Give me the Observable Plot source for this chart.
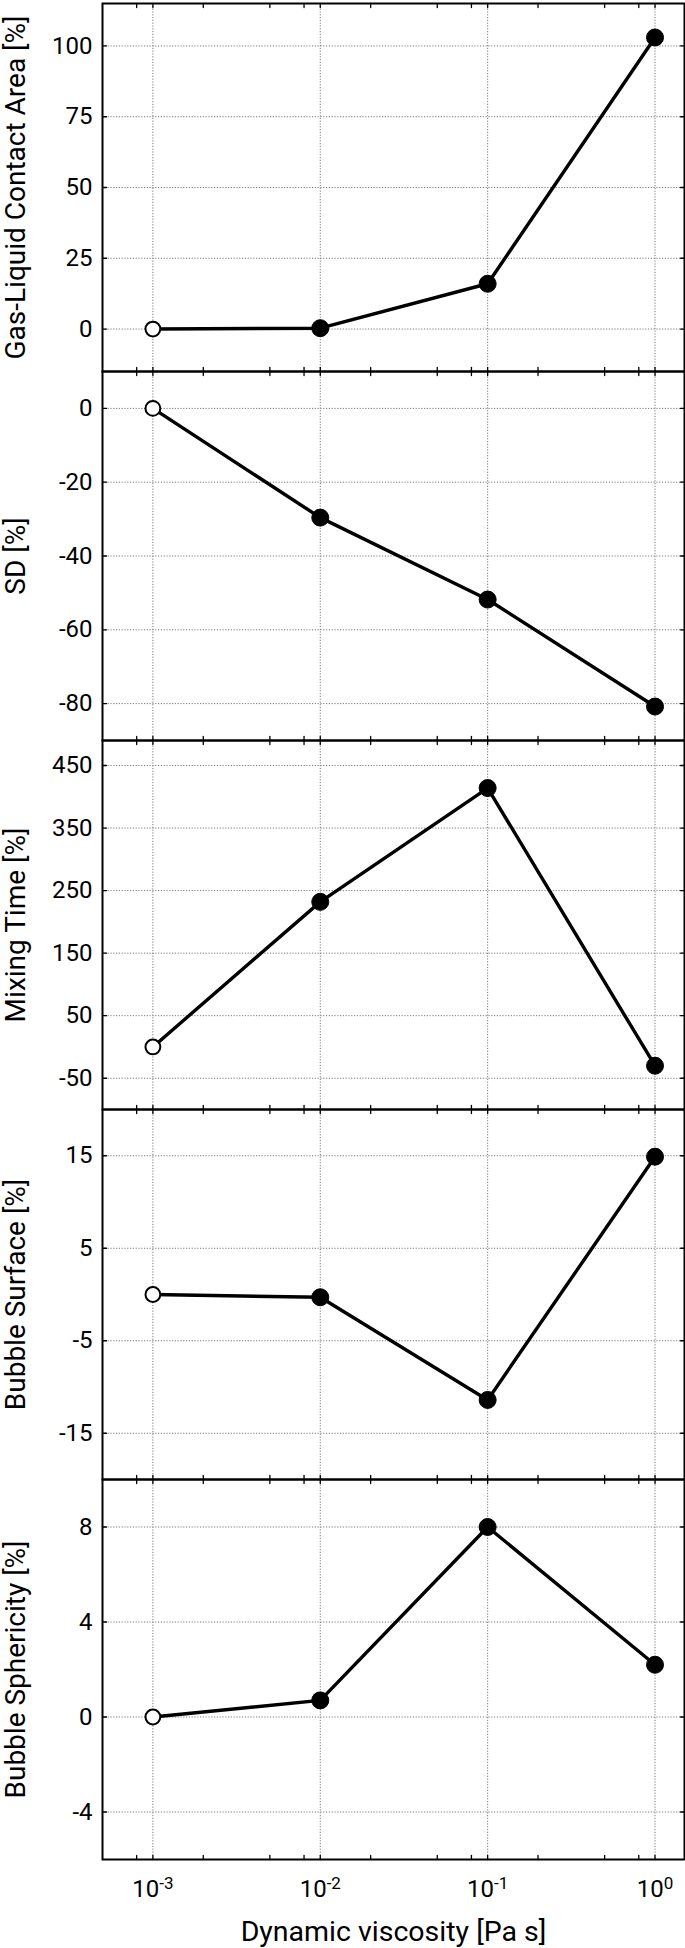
<!DOCTYPE html>
<html><head><meta charset="utf-8">
<script src="https://cdn.jsdelivr.net/npm/d3@7"></script>
<script src="https://cdn.jsdelivr.net/npm/@observablehq/plot@0.6"></script>
<style>
html,body{margin:0;padding:0;background:#fff;}
#chart{position:relative;width:685px;height:1948px;overflow:hidden;background:#fff;}
#chart svg{position:absolute;left:0;overflow:visible;}
</style></head><body><div id="chart"></div>
<script>
// ---- data ----
const viscosity = [0.001, 0.01, 0.1, 1];            // Pa s
const referenceFlags = [true, false, false, false]; // open marker = reference (water)
const gasLiquidContactArea = [0, 0.3, 16, 103];
const sizeDistribution = [0, -29.6, -51.8, -80.8];
const mixingTime = [0, 232, 414, -30];
const bubbleSurface = [0, -0.3, -11.4, 14.9];
const bubbleSphericity = [0, 0.7, 8, 2.2];

const yLabels = ["Gas-Liquid Contact Area [%]", "SD [%]", "Mixing Time [%]", "Bubble Surface [%]", "Bubble Sphericity [%]"];
const yDomains = [[-15, 115], [-90, 10], [-100, 490], [-20, 20], [-6, 10]];
const yTicks = [[0, 25, 50, 75, 100], [0, -20, -40, -60, -80], [-50, 50, 150, 250, 350, 450], [-15, -5, 5, 15], [-4, 0, 4, 8]];
const xMajorTicks = [0.001, 0.01, 0.1, 1];
const xTickExponents = ["-3", "-2", "-1", "0"];
const xMinorTicks = [0.0008, 0.002, 0.005, 0.008, 0.02, 0.05, 0.08, 0.2, 0.5, 0.8];
const xLabel = "Dynamic viscosity [Pa s]";
const seriesValues = [gasLiquidContactArea, sizeDistribution, mixingTime, bubbleSurface, bubbleSphericity];

// ---- layout ----
const W = 685;
const panelTops = [3, 371, 740, 1109, 1479];
const panelBottoms = [371, 740, 1109, 1479, 1859];
const bottomMargin = 89;

const tickShape = {draw(context, l) { context.moveTo(0, 0); context.lineTo(0, -l); }};
const FONT = "Roboto, 'Open Sans', sans-serif";

const chart = document.getElementById("chart");

seriesValues.forEach((vals, i) => {
  const isLast = i === seriesValues.length - 1;
  const rows = viscosity.map((v, j) => ({v, y: vals[j], ref: referenceFlags[j]}));
  const innerH = panelBottoms[i] - panelTops[i];
  const grid = {stroke: "#7a7a7a", strokeOpacity: 1, strokeWidth: 1, strokeDasharray: "1.2,1.6"};
  const marks = [
    Plot.gridX(xMajorTicks, grid),
    Plot.gridY(yTicks[i], grid),
    Plot.vector(xMajorTicks.concat(xMinorTicks), {x: d => d, frameAnchor: "top", rotate: 180, length: 4, anchor: "start", shape: tickShape, stroke: "black", strokeWidth: 1.3}),
    Plot.vector(xMajorTicks.concat(xMinorTicks), {x: d => d, frameAnchor: "bottom", rotate: 0, length: 4, anchor: "start", shape: tickShape, stroke: "black", strokeWidth: 1.3}),
    Plot.vector(yTicks[i], {y: d => d, frameAnchor: "left", rotate: 90, length: 4, anchor: "start", shape: tickShape, stroke: "black", strokeWidth: 1.3}),
    Plot.vector(yTicks[i], {y: d => d, frameAnchor: "right", rotate: -90, length: 4, anchor: "start", shape: tickShape, stroke: "black", strokeWidth: 1.3}),
    Plot.axisY(yTicks[i], {
      anchor: "left", tickSize: 0, tickPadding: 10, tickFormat: d => String(d),
      fontSize: 24, label: yLabels[i], labelAnchor: "center", labelArrow: "none", labelOffset: 97
    }),
    Plot.frame({stroke: "black", strokeWidth: 2}),
    Plot.line(rows, {x: "v", y: "y", stroke: "black", strokeWidth: 3.4}),
    Plot.dot(rows.filter(d => !d.ref), {x: "v", y: "y", r: 8.5, fill: "black", stroke: "black", strokeWidth: 1}),
    Plot.dot(rows.filter(d => d.ref), {x: "v", y: "y", r: 7.4, fill: "white", stroke: "black", strokeWidth: 2})
  ];
  if (isLast) {
    marks.push(Plot.axisX(xMajorTicks, {
      anchor: "bottom", tickSize: 0, tickPadding: 20,
      tickFormat: d => "10^" + xTickExponents[xMajorTicks.indexOf(d)],
      fontSize: 24, label: xLabel, labelAnchor: "center", labelArrow: "none", labelOffset: 81
    }));
  }
  const svg = Plot.plot({
    width: W,
    height: innerH + (isLast ? bottomMargin : 0),
    marginLeft: 102, marginRight: 1, marginTop: 0, marginBottom: isLast ? bottomMargin : 0,
    style: {background: "transparent", overflow: "visible", fontFamily: FONT, fontSize: "24px", color: "black"},
    x: {type: "log", domain: [5e-4, 1.5], axis: isLast ? undefined : null},
    y: {domain: yDomains[i]},
    marks
  });
  svg.style.top = panelTops[i] + "px";
  // axis label sizes
  svg.querySelectorAll('g[aria-label="y-axis label"]').forEach(g => {
    g.setAttribute("font-size", "28");
    g.querySelectorAll("text").forEach(t => t.setAttribute("font-size", "28"));
  });
  svg.querySelectorAll('g[aria-label="x-axis label"]').forEach(g => {
    g.setAttribute("font-size", "28.5");
    g.querySelectorAll("text").forEach(t => t.setAttribute("font-size", "28.5"));
  });
  // superscript exponents on x tick labels
  svg.querySelectorAll('g[aria-label="x-axis tick label"] text').forEach(t => {
    const s = t.textContent;
    const m = s.match(/^10\^(.*)$/);
    if (!m) return;
    const tspans = t.querySelectorAll("tspan");
    const host = tspans.length ? tspans[0] : t;
    host.textContent = "10";
    const sup = document.createElementNS("http://www.w3.org/2000/svg", "tspan");
    sup.setAttribute("dy", "-8");
    sup.setAttribute("font-size", "17");
    sup.textContent = m[1];
    t.appendChild(sup);
  });
  chart.appendChild(svg);
});
</script></body></html>
